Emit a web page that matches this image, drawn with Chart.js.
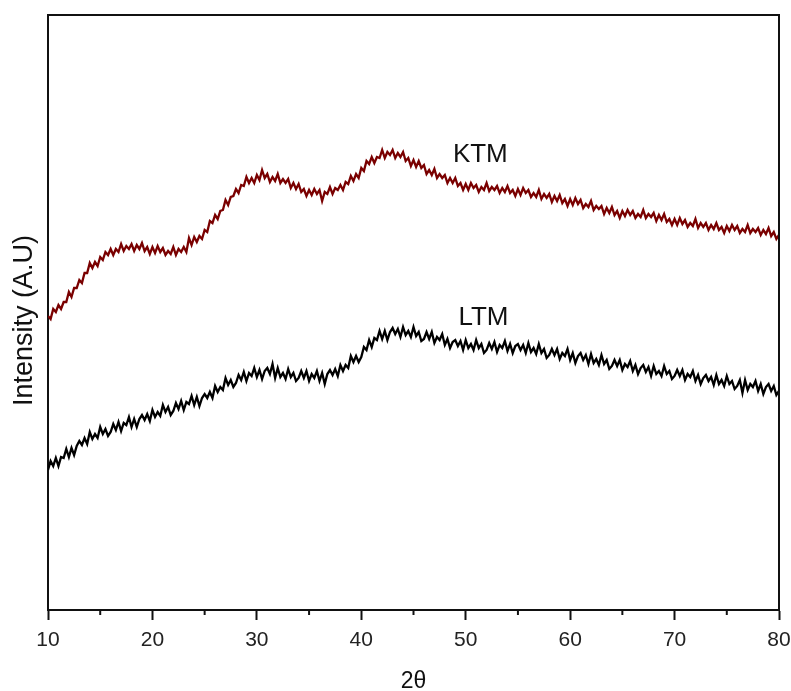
<!DOCTYPE html>
<html>
<head>
<meta charset="utf-8">
<script src="https://cdn.jsdelivr.net/npm/chart.js@4.4.1/dist/chart.umd.min.js"></script>
<style>
  html, body { margin: 0; padding: 0; background: #fff; }
  #wrap { width: 791px; height: 691px; }
</style>
</head>
<body>
<div id="wrap"><canvas id="xrdChart" width="791" height="691"></canvas></div>
<script>
// 2θ sampled every 0.25 degree, 10 -> 80
const twoTheta = Array.from({ length: 281 }, (_, i) => 10 + i * 0.25);

// intensities (arbitrary units), 4 samples per degree
const ktm = [
  294, 291, 301, 298,  305, 301, 308, 308,  318, 313, 322, 322,  330, 327, 337, 337,  347, 342, 348, 344,
  353, 350, 358, 355,  361, 355, 361, 358,  366, 359, 364, 361,  366, 359, 365, 361,  367, 359, 363, 356,
  363, 357, 364, 358,  362, 355, 359, 356,  363, 355, 361, 358,  363, 358, 372, 365,  373, 368, 374, 371,
  380, 378, 389, 387,  395, 391, 399, 400,  410, 405, 413, 414,  421, 417, 425, 424,  433, 427, 432, 427,
  435, 430, 440, 432,  436, 428, 433, 429,  436, 427, 431, 427,  431, 422, 427, 421,  426, 418, 421, 414,
  420, 415, 421, 416,  420, 409, 418, 416,  423, 416, 422, 420,  425, 420, 428, 426,  434, 429, 436, 432,
  442, 439, 449, 446,  453, 447, 453, 452,  460, 452, 458, 455,  460, 452, 457, 453,  458, 449, 452, 444,
  450, 443, 449, 442,  445, 436, 440, 435,  441, 432, 436, 432,  435, 427, 432, 427,  432, 424, 427, 420,
  426, 420, 427, 422,  425, 418, 423, 420,  427, 419, 423, 420,  424, 417, 422, 418,  424, 417, 420, 414,
  421, 415, 422, 417,  420, 413, 417, 413,  420, 411, 416, 412,  416, 408, 414, 409,  415, 407, 411, 404,
  411, 405, 412, 406,  410, 402, 406, 403,  409, 400, 404, 401,  404, 396, 402, 397,  403, 395, 399, 392,
  399, 394, 400, 395,  399, 392, 396, 393,  400, 392, 396, 393,  397, 389, 395, 390,  396, 388, 391, 385,
  391, 385, 392, 386,  390, 383, 387, 384,  391, 382, 387, 383,  387, 380, 385, 381,  387, 380, 383, 377,
  384, 379, 385, 380,  384, 377, 381, 378,  385, 377, 381, 378,  382, 375, 380, 376,  382, 374, 378, 371,
  375
];

const ltm = [
  140, 149, 144, 152,  144, 153, 152, 161,  153, 162, 155, 164,  169, 165, 172, 166,  178, 171, 176, 172,
  183, 176, 181, 174,  178, 186, 180, 188,  179, 187, 185, 193,  183, 191, 183, 191,  195, 190, 196, 189,
  200, 193, 198, 194,  205, 198, 203, 195,  199, 207, 201, 209,  200, 208, 206, 214,  205, 213, 204, 212,
  216, 212, 218, 212,  224, 218, 223, 220,  232, 225, 230, 223,  227, 235, 230, 238,  229, 237, 234, 242,
  233, 240, 231, 239,  242, 236, 246, 232,  242, 233, 237, 231,  241, 233, 237, 229,  232, 239, 232, 239,
  229, 236, 232, 239,  229, 237, 226, 236,  240, 235, 241, 234,  245, 239, 245, 242,  254, 248, 254, 248,
  253, 263, 260, 270,  263, 272, 270, 279,  271, 279, 270, 278,  282, 276, 281, 273,  283, 275, 279, 273,
  283, 274, 278, 269,  271, 278, 271, 278,  267, 273, 270, 276,  265, 271, 262, 268,  270, 264, 269, 260,
  270, 262, 266, 260,  270, 262, 266, 257,  260, 267, 261, 268,  258, 265, 262, 269,  259, 266, 257, 264,
  266, 260, 265, 257,  267, 258, 262, 256,  266, 257, 261, 252,  255, 261, 255, 261,  251, 257, 254, 261,
  250, 257, 247, 254,  257, 250, 255, 246,  256, 247, 251, 245,  255, 246, 250, 241,  244, 250, 244, 250,
  240, 246, 243, 249,  239, 245, 236, 242,  245, 238, 243, 234,  244, 236, 239, 234,  244, 236, 239, 231,
  234, 240, 234, 240,  230, 236, 233, 239,  229, 235, 226, 232,  235, 229, 233, 225,  235, 226, 230, 224,
  234, 226, 229, 221,  224, 230, 217, 230,  220, 226, 223, 229,  219, 226, 216, 223,  226, 219, 224, 215,
  219
];

const xTicks = [10, 20, 30, 40, 50, 60, 70, 80];
const minorTicks = [15, 25, 35, 45, 55, 65, 75];
const seriesLabels = [
  { text: 'KTM', x: 51.4, y: 455 },
  { text: 'LTM', x: 51.7, y: 292 }
];
const yTitle = 'Intensity (A.U)';

const toPoints = (vals) => vals.map((v, i) => ({ x: twoTheta[i], y: v }));

// frame, minor ticks, y title and the in-plot labels
const framePlugin = {
  id: 'frame',
  afterDraw(chart) {
    const { ctx, chartArea: a, scales } = chart;
    ctx.save();
    ctx.strokeStyle = '#111';
    ctx.lineWidth = 2;
    ctx.beginPath();
    ctx.moveTo(a.left, a.top);
    ctx.lineTo(a.right, a.top);
    ctx.lineTo(a.right, a.bottom);
    ctx.stroke();

    minorTicks.forEach(t => {
      const px = scales.x.getPixelForValue(t);
      ctx.beginPath();
      ctx.moveTo(px, a.bottom);
      ctx.lineTo(px, a.bottom + 5);
      ctx.stroke();
    });

    ctx.fillStyle = '#111';
    ctx.font = '26px "Liberation Sans", Arial, sans-serif';
    ctx.textAlign = 'center';
    ctx.textBaseline = 'middle';
    seriesLabels.forEach(l => {
      ctx.fillText(l.text, scales.x.getPixelForValue(l.x), scales.y.getPixelForValue(l.y));
    });

    // y title, a bit below the middle of the plot like the original
    ctx.translate(25, a.top + (a.bottom - a.top) / 2 + 8);
    ctx.rotate(-Math.PI / 2);
    ctx.font = '27px "Liberation Sans", Arial, sans-serif';
    ctx.fillText(yTitle, 0, 0);
    ctx.restore();
  }
};

const ctx = document.getElementById('xrdChart').getContext('2d');
new Chart(ctx, {
  type: 'line',
  data: {
    datasets: [
      {
        label: 'KTM',
        data: toPoints(ktm),
        borderColor: '#7a0000',
        borderWidth: 2.3,
        pointRadius: 0,
        tension: 0,
        fill: false
      },
      {
        label: 'LTM',
        data: toPoints(ltm),
        borderColor: '#000',
        borderWidth: 2.3,
        pointRadius: 0,
        tension: 0,
        fill: false
      }
    ]
  },
  options: {
    responsive: false,
    animation: false,
    layout: { padding: { left: 0, right: 12, top: 15, bottom: 0 } },
    plugins: {
      legend: { display: false },
      tooltip: { enabled: false }
    },
    scales: {
      x: {
        type: 'linear',
        min: 10,
        max: 80,
        afterBuildTicks: (s) => { s.ticks = xTicks.map(v => ({ value: v })); },
        afterFit: (s) => { s.height = 81; s.paddingLeft = 0; s.paddingRight = 0; },
        border: { display: true, color: '#111', width: 2 },
        grid: { drawOnChartArea: false, drawTicks: true, tickLength: 10, tickColor: '#111', tickWidth: 2 },
        ticks: {
          color: '#222',
          font: { family: '"Liberation Sans", Arial, sans-serif', size: 21 },
          padding: 8,
          maxRotation: 0
        },
        title: {
          display: true,
          text: '2θ',
          color: '#111',
          font: { family: '"Liberation Sans", Arial, sans-serif', size: 23, lineHeight: 1 },
          padding: { top: 0, bottom: -2 }
        }
      },
      y: {
        min: 0,
        max: 595,
        afterFit: (s) => { s.width = 48; },
        border: { display: true, color: '#111', width: 2 },
        grid: { display: false },
        ticks: { display: false }
      }
    }
  },
  plugins: [framePlugin]
});
</script>
</body>
</html>
